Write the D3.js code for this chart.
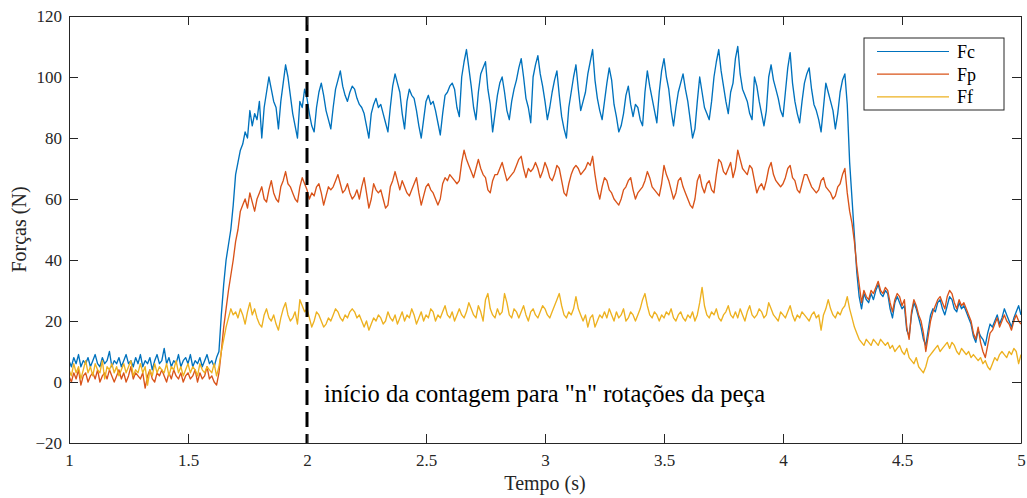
<!DOCTYPE html>
<html>
<head>
<meta charset="utf-8">
<script src="https://cdn.jsdelivr.net/npm/d3@7"></script>
<style>
  body { margin: 0; background: #fff; }
  svg { display: block; }
  text { font-family: "Liberation Serif", "Times New Roman", serif; fill: #262626; }
</style>
</head>
<body>
<svg id="chart" width="1027" height="498"></svg>
<script>
// Cutting forces sampled every 10 ms, starting at t = 1 s
const timeStart = 1;
const timeStep = 0.01;

const seriesNames = ["Fc", "Fp", "Ff"];

// Fc (N), one row per 0.1 s
const fc = [
  7,5,8,6,9,5,7,6,8,5,
  7,9,6,5,8,6,7,10,5,7,
  6,8,5,7,9,6,7,5,8,6,
  9,5,7,6,8,4,7,9,6,7,
  11,6,8,5,7,6,9,5,7,8,
  6,9,5,7,6,8,5,7,9,6,
  7,5,8,10,22,32,40,45,50,58,
  68,72,76,78,82,80,89,84,88,86,
  92,80,90,95,100,96,92,90,83,92,
  98,104,100,94,88,84,80,92,90,96,
  93,88,84,82,90,95,98,94,89,86,
  83,90,96,99,102,97,94,92,95,97,
  96,93,91,90,88,84,80,88,91,93,
  90,91,88,85,82,90,97,101,98,95,
  88,83,92,96,94,93,89,84,80,86,
  92,94,91,92,89,85,81,88,94,95,
  97,98,96,90,87,100,105,109,103,97,
  90,86,95,101,103,105,96,91,82,88,
  94,98,100,95,89,86,92,96,99,103,
  106,100,93,90,85,100,104,107,101,97,
  92,86,90,95,99,102,94,87,83,80,
  90,95,100,104,96,89,92,95,101,105,
  109,99,93,89,86,92,98,103,99,91,
  87,82,84,88,94,97,91,87,91,90,
  86,84,95,102,97,93,89,85,95,102,
  106,100,96,89,84,90,95,98,101,96,
  92,86,80,83,92,100,95,90,88,86,
  92,100,105,109,102,97,92,88,95,98,
  106,110,101,96,94,92,88,86,100,97,
  92,88,84,89,100,104,99,96,93,89,
  87,95,103,108,98,92,88,85,92,98,
  101,103,96,91,89,86,82,90,98,95,
  92,89,83,88,95,99,101,91,72,60,
  48,36,28,24,29,27,26,29,27,30,
  32,29,28,30,29,24,21,26,28,26,
  24,25,17,15,22,26,24,21,18,14,
  12,17,22,24,23,26,27,24,22,25,
  28,27,24,23,26,24,25,23,21,19,
  15,13,17,15,14,12,16,19,18,20,
  22,19,21,24,22,20,18,21,23,25,
  22
];

// Fp (N)
const fp = [
  2,0,3,1,4,-1,2,3,0,2,
  3,1,4,0,2,3,1,4,2,0,
  2,4,1,3,0,2,5,1,3,2,
  1,3,-2,2,4,1,0,3,2,4,
  2,0,3,1,4,2,1,3,0,2,
  3,1,2,4,0,3,1,2,5,1,
  2,0,-1,3,10,18,24,30,35,40,
  46,50,56,58,60,57,62,59,56,60,
  62,64,60,59,63,66,62,60,59,64,
  66,69,65,64,62,60,59,64,67,65,
  63,60,62,61,64,65,62,58,61,64,
  63,64,66,68,65,62,63,65,62,60,
  61,63,60,64,67,62,57,60,65,63,
  62,63,60,57,58,64,66,69,66,63,
  66,64,62,61,63,65,67,62,58,61,
  64,65,63,62,60,58,60,65,67,66,
  68,67,66,65,66,72,76,73,71,69,
  67,70,73,70,68,67,63,62,66,68,
  68,70,72,69,66,67,68,69,71,73,
  74,70,67,70,69,70,72,70,67,69,
  72,70,67,66,68,71,70,66,62,61,
  65,68,70,71,70,68,69,70,72,71,
  74,68,63,60,64,67,66,63,62,60,
  59,58,60,63,64,66,67,63,60,62,
  63,64,66,69,67,64,63,62,61,65,
  71,68,66,63,60,62,66,67,64,62,
  60,58,57,60,66,68,64,62,65,66,
  63,62,68,73,72,69,68,70,72,67,
  70,76,73,70,69,68,71,70,66,62,
  64,65,63,66,70,72,68,66,65,64,
  65,67,70,71,67,66,63,62,65,68,
  68,66,64,63,62,63,66,67,64,63,
  62,60,61,64,65,68,70,62,56,52,
  46,38,32,26,30,28,27,30,29,31,
  33,30,29,31,30,26,23,27,29,28,
  25,27,18,14,23,27,25,22,20,16,
  10,15,20,23,25,27,28,26,24,28,
  30,29,26,24,27,25,26,24,22,20,
  16,14,18,13,10,8,12,16,17,19,
  21,18,20,22,20,19,17,20,22,20,
  19
];

// Ff (N)
const ff = [
  4,2,6,3,5,1,4,7,3,5,
  2,6,4,3,7,1,5,4,6,3,
  5,2,4,6,3,5,7,2,4,3,
  6,3,5,-1,4,2,6,3,5,4,
  3,6,2,5,4,7,3,5,2,4,
  6,3,5,4,2,6,4,3,5,4,
  3,6,2,5,10,14,18,21,24,22,
  23,21,24,22,19,23,26,22,24,21,
  19,18,22,24,21,20,22,19,17,21,
  24,26,22,20,21,23,19,27,25,23,
  24,21,18,20,23,22,20,18,19,21,
  20,22,24,23,21,20,22,21,23,24,
  23,21,22,20,18,20,17,19,21,20,
  22,21,19,20,23,21,20,22,19,21,
  23,20,22,21,24,22,19,21,23,20,
  22,21,24,23,20,22,21,23,25,22,
  21,23,20,22,24,22,21,23,26,24,
  22,21,25,23,20,27,29,24,22,21,
  24,22,23,29,26,22,21,24,23,21,
  23,25,22,20,23,24,22,21,23,25,
  24,22,21,23,25,27,29,25,22,21,
  23,22,24,28,24,22,20,22,18,21,
  22,18,20,22,21,23,21,24,22,20,
  23,21,22,24,20,21,23,22,20,22,
  24,27,29,25,22,21,23,22,20,22,
  21,23,22,24,21,20,22,23,21,20,
  22,21,23,20,22,26,31,25,22,21,
  23,22,24,21,20,22,23,25,22,21,
  23,21,24,22,20,23,25,22,21,22,
  24,23,21,22,26,24,22,21,20,23,
  22,21,23,25,22,20,22,21,23,22,
  21,20,22,23,21,22,17,22,24,27,
  24,22,21,23,22,24,25,28,24,21,
  18,16,14,13,12,14,13,12,14,13,
  12,14,13,12,13,11,12,10,11,12,
  10,9,11,8,7,6,8,5,4,3,
  5,8,9,10,11,12,10,11,12,13,
  11,13,12,10,9,11,10,9,10,8,
  9,8,7,8,6,7,5,4,6,8,
  7,9,10,9,8,10,9,11,10,6,
  9
];

const xTicks = [1, 1.5, 2, 2.5, 3, 3.5, 4, 4.5, 5];
const yTicks = [-20, 0, 20, 40, 60, 80, 100, 120];
const markerTime = 2;
const markerText = 'início da contagem para "n" rotações da peça';
const xTitle = "Tempo (s)";
const yTitle = "Forças (N)";

// ---- layout and style ----
const box = { left: 69, right: 1021, top: 16, bottom: 443 };
const lineColors = ["#0072BD", "#D95319", "#EDB120"];
const axisColor = "#262626";
const tickLen = 9;

const svg = d3.select("#chart");
const x = d3.scaleLinear().domain([1, 5]).range([box.left, box.right]);
const y = d3.scaleLinear().domain([-20, 120]).range([box.bottom, box.top]);

svg.append("defs").append("clipPath").attr("id", "plotClip")
  .append("rect")
  .attr("x", box.left).attr("y", box.top)
  .attr("width", box.right - box.left).attr("height", box.bottom - box.top);

// signal traces
const line = d3.line()
  .x((d, i) => x(timeStart + i * timeStep))
  .y(d => y(d));

const traces = svg.append("g").attr("clip-path", "url(#plotClip)");
[fc, fp, ff].forEach((vals, k) => {
  traces.append("path")
    .datum(vals)
    .attr("fill", "none")
    .attr("stroke", lineColors[k])
    .attr("stroke-width", 1.35)
    .attr("stroke-linejoin", "round")
    .attr("d", line);
});

// dashed marker line
svg.append("line")
  .attr("x1", x(markerTime)).attr("x2", x(markerTime))
  .attr("y1", y(120)).attr("y2", y(-20))
  .attr("stroke", "#000").attr("stroke-width", 3)
  .attr("stroke-dasharray", "15,7");

svg.append("text")
  .attr("x", x(markerTime) + 17).attr("y", 402)
  .style("font-size", "24.5px")
  .style("fill", "#000")
  .text(markerText);

// axes (ticks pointing inward, mirrored on top and right)
function styleAxis(g) {
  g.selectAll("path, line").attr("stroke", axisColor).attr("stroke-width", 1);
  g.selectAll("text").style("font-size", "17px").style("fill", axisColor)
    .style("font-family", '"Liberation Serif", "Times New Roman", serif');
}

svg.append("g").attr("transform", `translate(0,${box.bottom})`)
  .call(d3.axisBottom(x).tickValues(xTicks).tickFormat(d3.format("")).tickSizeInner(-tickLen).tickSizeOuter(0).tickPadding(11))
  .call(styleAxis);
svg.append("g").attr("transform", `translate(0,${box.top})`)
  .call(d3.axisTop(x).tickValues(xTicks).tickFormat("").tickSizeInner(-tickLen).tickSizeOuter(0))
  .call(styleAxis);
svg.append("g").attr("transform", `translate(${box.left},0)`)
  .call(d3.axisLeft(y).tickValues(yTicks).tickFormat(d3.format("")).tickSizeInner(-tickLen).tickSizeOuter(0).tickPadding(7))
  .call(styleAxis);
svg.append("g").attr("transform", `translate(${box.right},0)`)
  .call(d3.axisRight(y).tickValues(yTicks).tickFormat("").tickSizeInner(-tickLen).tickSizeOuter(0))
  .call(styleAxis);

// axis titles
svg.append("text")
  .attr("x", x(3)).attr("y", 490)
  .attr("text-anchor", "middle")
  .style("font-size", "20px")
  .text(xTitle);

svg.append("text")
  .attr("transform", `translate(26,${(box.top + box.bottom) / 2}) rotate(-90)`)
  .attr("text-anchor", "middle")
  .style("font-size", "20px")
  .text(yTitle);

// legend
const legend = svg.append("g");
legend.append("rect")
  .attr("x", 864).attr("y", 38).attr("width", 140).attr("height", 72)
  .attr("fill", "#fff").attr("stroke", axisColor).attr("stroke-width", 1);
seriesNames.forEach((name, k) => {
  const ly = 51.5 + k * 22.7;
  legend.append("line")
    .attr("x1", 877).attr("x2", 949).attr("y1", ly).attr("y2", ly)
    .attr("stroke", lineColors[k]).attr("stroke-width", 1.2);
  legend.append("text")
    .attr("x", 957).attr("y", ly).attr("dy", "0.35em")
    .style("font-size", "18px").style("fill", "#000")
    .text(name);
});
</script>
</body>
</html>
